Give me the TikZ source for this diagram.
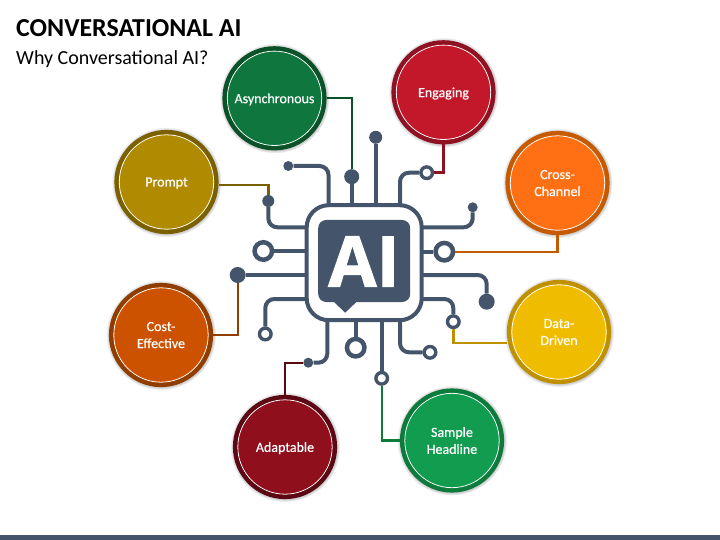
\documentclass[tikz,border=0pt]{standalone}
\usepackage{fontspec}
\setmainfont{Carlito}
\newfontfamily\hubfont[FakeBold=0.5]{Carlito}
\newfontfamily\bigfont[BoldFeatures={FakeBold=1.5}]{Open Sans}
\usetikzlibrary{shadows}
\definecolor{trace}{HTML}{44546A}
\definecolor{HubAsync}{HTML}{0F763D}
\definecolor{EdgeAsync}{HTML}{0B5229}
\definecolor{HubEngage}{HTML}{C3172A}
\definecolor{EdgeEngage}{HTML}{8E1222}
\definecolor{HubCross}{HTML}{FF7014}
\definecolor{EdgeCross}{HTML}{C55A00}
\definecolor{HubData}{HTML}{F0BC00}
\definecolor{EdgeData}{HTML}{BF9000}
\definecolor{HubSample}{HTML}{129C50}
\definecolor{EdgeSample}{HTML}{0E7A3C}
\definecolor{HubAdapt}{HTML}{8F101C}
\definecolor{EdgeAdapt}{HTML}{5B0A14}
\definecolor{HubCost}{HTML}{CC5200}
\definecolor{EdgeCost}{HTML}{8F3E00}
\definecolor{HubPrompt}{HTML}{B08A00}
\definecolor{EdgePrompt}{HTML}{7A6000}
\tikzset{
  hub/.style n args={2}{circle, draw=#2, fill=#1, line width=4.2pt, minimum size=100pt, inner sep=0pt,
    text=white, align=center, text depth=0pt, font=\hubfont\fontsize{14}{17}\selectfont,
    circular glow={fill=black, opacity=0.5, shadow scale=1.1},
    path picture={\draw[white, line width=0.8pt] (path picture bounding box.center) circle (47.2pt);}},
  solid dot/.style={circle, fill=trace, inner sep=0pt, minimum size=#1},
  small ring/.style={circle, draw=trace, fill=white, line width=3.4pt, inner sep=0pt, minimum size=11.6pt},
  big ring/.style={circle, draw=trace, fill=white, line width=4.5pt, inner sep=0pt, minimum size=17.5pt},
  wire/.style={draw=trace, line width=4pt, rounded corners=9pt},
  link/.style={line width=2.4pt}
}
\begin{document}
\begin{tikzpicture}[x=1pt, y=-1pt]
        \useasboundingbox (0,0) rectangle (720,540);
        \fill[trace] (0,535) rectangle (720,540);

        % Headings
        \node[anchor=west, inner sep=0pt, font=\fontsize{25.9}{30}\selectfont\bfseries] (title) at (16,28) {CONVERSATIONAL AI};
        \node[anchor=west, inner sep=0pt, font=\fontsize{20}{24}\selectfont] (subtitle) at (16,59.5) {Why Conversational AI?};

        % Chip in the middle
        \node[draw=trace, line width=4pt, fill=white, rounded corners=22pt, minimum size=115pt] (chip) at (364.2,262.7) {};
        \node[fill=trace, rounded corners=8pt, minimum width=92pt, minimum height=82pt, inner sep=0pt] (board) at (364.2,261) {};
        \fill[trace] ([xshift=-30pt]board.south) -- ([xshift=-19pt,yshift=-10.5pt]board.south) -- ([xshift=-8pt]board.south) -- cycle;
        \node[text=white, inner sep=0pt, font=\bigfont\fontsize{70}{70}\selectfont\bfseries] (ai) at (364,261.5) {AI};

        % Wire ends
        \node[solid dot=10pt] (topa) at (288.3,166) {};
        \node[solid dot=15pt] (topb) at (351.7,176.7) {};
        \node[solid dot=13pt] (topc) at (375.7,137.3) {};
        \node[small ring] (topd) at (426.7,172.7) {};
        \node[solid dot=10pt] (righta) at (472.7,207.3) {};
        \node[big ring] (rightb) at (444.3,251.7) {};
        \node[solid dot=16pt] (rightc) at (486.7,301.7) {};
        \node[small ring] (rightd) at (453.3,321.7) {};
        \node[small ring] (bota) at (430,352.3) {};
        \node[small ring] (botb) at (381.7,378.3) {};
        \node[big ring] (botc) at (355.7,347.7) {};
        \node[solid dot=10pt] (botd) at (308.3,362.7) {};
        \node[solid dot=12pt] (lefta) at (268.3,201) {};
        \node[big ring] (leftb) at (263.3,251) {};
        \node[solid dot=16pt] (leftc) at (237.7,275) {};
        \node[small ring] (leftd) at (265.3,334) {};

        % Wires
        \draw[wire] (topa) -| (328.5,204);
        \draw[wire] (topb) -- (351.7,204);
        \draw[wire] (topc) -- (375.7,204);
        \draw[wire] (topd) -| (400,204);
        \draw[wire] (righta) |- (423,227.3);
        \draw[wire] (rightb) -- (423,251.7);
        \draw[wire] (rightc) |- (423,275);
        \draw[wire] (rightd) |- (423,299);
        \draw[wire] (bota) -| (400,322);
        \draw[wire] (botb) -- (381.7,322);
        \draw[wire] (botc) -- (355.7,322);
        \draw[wire] (botd) -| (327.3,322);
        \draw[wire] (lefta) |- (305,227.3);
        \draw[wire] (leftb) -- (305,251);
        \draw[wire] (leftc) -- (305,275);
        \draw[wire] (leftd) |- (305,299);

        % Outer circles
        \node[hub={HubAsync}{EdgeAsync}] (async) at (274.5,98.3) {Asynchronous};
        \node[hub={HubEngage}{EdgeEngage}] (engage) at (443.5,92.3) {Engaging};
        \node[hub={HubCross}{EdgeCross}] (cross) at (557.5,183) {Cross-\\Channel};
        \node[hub={HubData}{EdgeData}] (data) at (559,332) {Data-\\Driven};
        \node[hub={HubSample}{EdgeSample}] (sample) at (452,440.5) {Sample\\Headline};
        \node[hub={HubAdapt}{EdgeAdapt}] (adapt) at (285,447) {Adaptable};
        \node[hub={HubCost}{EdgeCost}] (cost) at (161,335) {Cost-\\Effective};
        \node[hub={HubPrompt}{EdgePrompt}] (prompt) at (166.5,182) {Prompt};

        % Connect circles to wire ends
        \draw[link, EdgeAsync] (async.east) -| (topb);
        \draw[link, EdgeEngage] (engage.south) |- (topd);
        \draw[link, EdgeCross] (cross.south) |- (rightb);
        \draw[link, EdgeData] ([yshift=-11pt]data.west) -| (rightd);
        \draw[link, EdgeSample] (sample.west) -| (botb);
        \draw[link, EdgeAdapt] (adapt.north) |- (botd);
        \draw[link, EdgeCost] (cost.east) -| (leftc);
        \draw[link, EdgePrompt] ([yshift=-3pt]prompt.east) -| (lefta);
    \end{tikzpicture}
\end{document}
